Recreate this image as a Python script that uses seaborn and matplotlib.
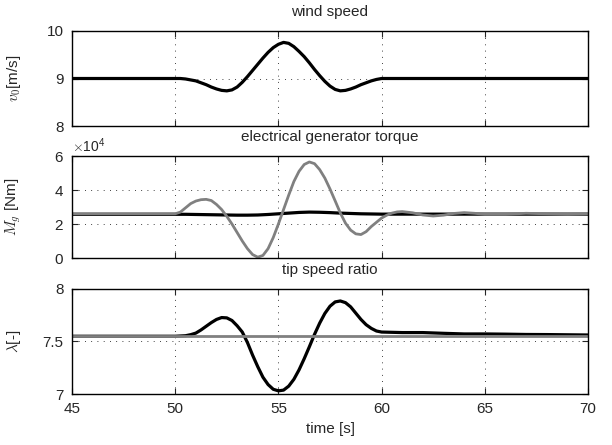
import numpy as np
import pandas as pd
import matplotlib
matplotlib.use("Agg")
import matplotlib.pyplot as plt
import seaborn as sns
from matplotlib.ticker import ScalarFormatter

# ---------------- data ----------------
wind_t = [45, 50, 50.25, 50.5, 50.75, 51, 51.25, 51.5, 51.75, 52, 52.25, 52.5, 52.75,
          53, 53.25, 53.5, 53.75, 54, 54.25, 54.5, 54.75, 55, 55.25, 55.5, 55.75,
          56, 56.25, 56.5, 56.75, 57, 57.25, 57.5, 57.75, 58, 58.25, 58.5, 58.75,
          59, 59.25, 59.5, 59.75, 60, 70]
wind_v = [9.0, 9.0, 9.0, 8.99, 8.97, 8.95, 8.91, 8.87, 8.82, 8.78, 8.75, 8.74, 8.76,
          8.82, 8.92, 9.04, 9.17, 9.30, 9.43, 9.55, 9.65, 9.72, 9.76, 9.74, 9.67,
          9.57, 9.46, 9.33, 9.19, 9.06, 8.94, 8.84, 8.77, 8.74, 8.75, 8.78, 8.82,
          8.87, 8.91, 8.95, 8.98, 9.0, 9.0]

torque_gray_t = [45, 50, 50.25, 50.5, 50.75, 51, 51.25, 51.5, 51.75, 52, 52.25, 52.5,
                 52.75, 53, 53.25, 53.5, 53.75, 54, 54.25, 54.5, 54.75, 55, 55.25,
                 55.5, 55.75, 56, 56.25, 56.5, 56.75, 57, 57.25, 57.5, 57.75, 58,
                 58.25, 58.5, 58.75, 59, 59.25, 59.5, 59.75, 60, 60.25, 60.5, 60.75,
                 61, 61.5, 62, 62.5, 63, 63.5, 64, 64.5, 65, 66, 67, 68, 69, 70]
torque_gray = [26000, 26000, 27000, 29500, 32000, 33500, 34300, 34500, 33800, 31500,
               28500, 24500, 20000, 15000, 10000, 5500, 2000, 500, 1500, 5500, 12000,
               20000, 28500, 37000, 45000, 51000, 55000, 56500, 55500, 52000, 47000,
               40600, 33600, 26500, 20500, 16400, 14200, 13800, 15500, 18500, 21000,
               23500, 25200, 26400, 27100, 27300, 26600, 25300, 24700, 25200, 26200,
               26700, 26300, 25700, 25700, 26300, 26000, 25700, 26000]

torque_black_t = [45, 50, 50.5, 51, 51.5, 52, 52.5, 53, 53.5, 54, 54.5, 55, 55.5, 56,
                  56.5, 57, 57.5, 58, 58.5, 59, 59.5, 60, 70]
torque_black = [25700, 25700, 25700, 25600, 25500, 25400, 25300, 25200, 25200, 25300,
                25600, 26000, 26400, 26800, 27000, 26900, 26700, 26400, 26200, 26000,
                25900, 25800, 25800]

tsr_t = [45, 50, 50.5, 50.75, 51, 51.25, 51.5, 51.75, 52, 52.25, 52.5, 52.75, 53,
         53.25, 53.5, 53.75, 54, 54.25, 54.5, 54.75, 55, 55.25, 55.5, 55.75, 56,
         56.25, 56.5, 56.75, 57, 57.25, 57.5, 57.75, 58, 58.25, 58.5, 58.75, 59,
         59.25, 59.5, 59.75, 60, 61, 62, 63, 64, 65, 66, 67, 68, 69, 70]
tsr_black = [7.55, 7.55, 7.555, 7.565, 7.58, 7.61, 7.645, 7.68, 7.71, 7.728, 7.725,
             7.70, 7.65, 7.59, 7.49, 7.37, 7.26, 7.16, 7.09, 7.045, 7.03, 7.037,
             7.075, 7.14, 7.23, 7.336, 7.45, 7.568, 7.675, 7.767, 7.836, 7.877,
             7.886, 7.87, 7.83, 7.77, 7.71, 7.66, 7.625, 7.60, 7.59, 7.585, 7.585,
             7.578, 7.572, 7.572, 7.57, 7.567, 7.566, 7.564, 7.562]
tsr_ref_t = [45, 70]
tsr_gray = [7.55, 7.55]

x_ticks = [45, 50, 55, 60, 65, 70]
titles = ["wind speed", "electrical generator torque", "tip speed ratio"]
ylabels = [r"$v_0$[m/s]", r"$M_g$ [Nm]", r"$\lambda$[-]"]

# ---------------- style ----------------
sns.set_style("white")
plt.rcParams["font.family"] = ["Liberation Sans", "DejaVu Sans"]
plt.rcParams["mathtext.fontset"] = "cm"
plt.rcParams["font.size"] = 11

fig = plt.figure(figsize=(6.12, 4.45), dpi=100)
W, H = 612, 445
def rect(l, t, r, b):
    return [l / W, 1 - b / H, (r - l) / W, (b - t) / H]

ax1 = fig.add_axes(rect(72, 31, 588, 126))
ax2 = fig.add_axes(rect(72, 156, 588, 258))
ax3 = fig.add_axes(rect(72, 289, 588, 394))
axes = [ax1, ax2, ax3]

BLACK = "#000000"
GRAY = "#808080"

sns.lineplot(x=wind_t, y=wind_v, ax=ax1, color=BLACK, lw=2.3, estimator=None, sort=False)
sns.lineplot(x=torque_black_t, y=torque_black, ax=ax2, color=BLACK, lw=2.3, estimator=None, sort=False)
sns.lineplot(x=torque_gray_t, y=torque_gray, ax=ax2, color=GRAY, lw=2.0, estimator=None, sort=False)
sns.lineplot(x=tsr_t, y=tsr_black, ax=ax3, color=BLACK, lw=2.3, estimator=None, sort=False)
sns.lineplot(x=tsr_ref_t, y=tsr_gray, ax=ax3, color=GRAY, lw=2.0, estimator=None, sort=False)

ax1.set_ylim(8, 10); ax1.set_yticks([8, 9, 10])
ax2.set_ylim(0, 60000); ax2.set_yticks([0, 20000, 40000, 60000])
ax3.set_ylim(7, 8); ax3.set_yticks([7, 7.5, 8]); ax3.set_yticklabels(["7", "7.5", "8"])

fmt = ScalarFormatter(useMathText=True)
fmt.set_powerlimits((0, 0))
ax2.yaxis.set_major_formatter(fmt)
ax2.yaxis.get_offset_text().set_fontsize(10)

for i, ax in enumerate(axes):
    ax.set_xlim(45, 70)
    ax.set_xticks(x_ticks)
    ax.grid(True, color="black", linestyle=(0, (1, 6.5)), linewidth=0.6)
    ax.tick_params(direction="in", length=4, width=0.8, labelsize=11, pad=6,
                   top=True, right=True, left=True, bottom=True)
    for s in ax.spines.values():
        s.set_linewidth(1.0)
        s.set_color("black")
    ax.set_title(titles[i], fontsize=11, pad=11)
    ax.set_ylabel(ylabels[i], fontsize=11)
    ax.yaxis.set_label_coords(-0.095, 0.5)
    if i < 2:
        ax.set_xticklabels([])
        ax.set_xlabel("")
ax3.set_xlabel("time [s]", fontsize=11, labelpad=4)

fig.savefig("out.png", dpi=100)
